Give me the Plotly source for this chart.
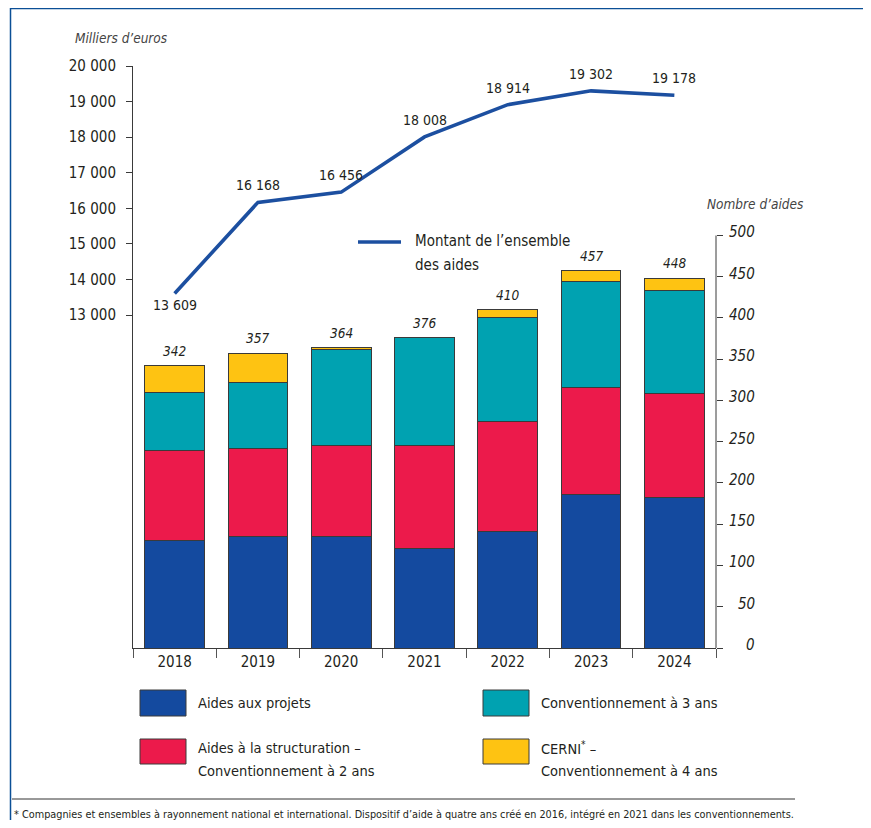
import plotly.graph_objects as go

years = ["2018", "2019", "2020", "2021", "2022", "2023", "2024"]
aides_projets = [130, 135, 135, 120, 141, 186, 183]
aides_structuration = [109, 107, 111, 126, 134, 130, 126]
conv_3ans = [71, 80, 116, 130, 125, 128, 124]
cerni = [32, 35, 2, 0, 10, 13, 15]
totaux = [342, 357, 364, 376, 410, 457, 448]
montant = [13609, 16168, 16456, 18008, 18914, 19302, 19178]
left_ticks = [13000, 14000, 15000, 16000, 17000, 18000, 19000, 20000]
right_ticks = [0, 50, 100, 150, 200, 250, 300, 350, 400, 450, 500]

FONT = "DejaVu Sans Condensed, Liberation Sans Narrow, sans-serif"
TXT = "#231f20"
C_BLUE = "#144a9f"
C_RED = "#ec1a4b"
C_TEAL = "#00a2b1"
C_YEL = "#fec312"
C_LINE = "#1c4fa0"
OUT = "#3a3a3a"

OFF = 8  # page body margin
W, H = 871 - OFF, 828 - OFF - 8
# plot area in screenshot pixels
SL, SR, ST, SB = 133, 716, 66, 648
L, R, T, B = SL - OFF, SR - OFF, ST - OFF, SB - OFF


def px(x):
    return (x - SL) / (SR - SL)


def py(y):
    return (SB - y) / (SB - ST)


def fmt(v):
    return f"{v:,}".replace(",", " ")


fig = go.Figure()

series = [
    ("Aides aux projets", aides_projets, C_BLUE),
    ("Aides à la structuration", aides_structuration, C_RED),
    ("Conventionnement à 3 ans", conv_3ans, C_TEAL),
    ("CERNI", cerni, C_YEL),
]
for name, vals, col in series:
    fig.add_trace(go.Bar(
        x=years, y=vals, name=name, yaxis="y2",
        marker=dict(color=col, line=dict(color=OUT, width=1)),
        width=0.717, showlegend=False, hoverinfo="skip",
    ))

fig.add_trace(go.Scatter(
    x=years, y=montant, mode="lines", yaxis="y",
    line=dict(color=C_LINE, width=3.6), showlegend=False, hoverinfo="skip",
))

annotations = []
# line value labels
for i, v in enumerate(montant):
    annotations.append(dict(
        x=i, y=v, xref="x", yref="y", text=fmt(v), showarrow=False,
        xanchor="center", yanchor="middle",
        yshift=-12 if i == 0 else 17, font=dict(family=FONT, size=14, color=TXT),
    ))
# bar totals
for i, t in enumerate(totaux):
    annotations.append(dict(
        x=i, y=t, xref="x", yref="y2", text=str(t), showarrow=False,
        xanchor="center", yanchor="middle",
        yshift=15, font=dict(family=FONT, size=13.5, color=TXT, style="italic"),
    ))
# right axis tick labels (right aligned)
for v in right_ticks:
    annotations.append(dict(
        x=px(757), y=v, xref="paper", yref="y2", text=str(v), showarrow=False,
        xanchor="right", yanchor="middle", yshift=3,
        font=dict(family=FONT, size=15, color=TXT, style="italic"),
    ))


def note(x, y, text, size, anchor="left", color=TXT, style="normal"):
    annotations.append(dict(x=px(x), y=py(y), xref="paper", yref="paper", text=text,
                            showarrow=False, xanchor=anchor, yanchor="middle",
                            font=dict(family=FONT, size=size, color=color, style=style)))


# axis titles
note(73, 38, "Milliers d’euros", 13.5, color="#444", style="italic")
note(806, 204, "Nombre d’aides", 13.5, anchor="right", color="#444", style="italic")

# line legend
note(413, 241, "Montant de l’ensemble", 15)
note(413, 265, "des aides", 15)

# bottom legend texts
note(196, 703, "Aides aux projets", 14.5)
note(539, 703, "Conventionnement à 3 ans", 14.5)
note(196, 748, "Aides à la structuration –", 14.5)
note(196, 771, "Conventionnement à 2 ans", 14.5)
note(539, 748, "CERNI<sup>*</sup> –", 14.5)
note(539, 771, "Conventionnement à 4 ans", 14.5)

# footnote
note(12, 815, "* Compagnies et ensembles à rayonnement national et international. Dispositif d’aide à quatre ans créé en 2016, intégré en 2021 dans les conventionnements.", 10.8)

shapes = []
# frame
shapes.append(dict(type="line", xref="paper", yref="paper", x0=px(10), x1=px(871 + 10), y0=py(8.5), y1=py(8.5),
                   line=dict(color="#0b4f96", width=1.5)))
shapes.append(dict(type="line", xref="paper", yref="paper", x0=px(10.5), x1=px(10.5), y0=py(8), y1=py(840),
                   line=dict(color="#0b4f96", width=1.5)))
# right axis line
shapes.append(dict(type="line", xref="paper", yref="y2", x0=1, x1=1, y0=-10, y1=500,
                   line=dict(color=OUT, width=1)))
# line legend sample
shapes.append(dict(type="line", xref="paper", yref="paper", x0=px(358), x1=px(401), y0=py(242), y1=py(242),
                   line=dict(color=C_LINE, width=3.6)))
# legend boxes
for x0, y0, y1, col in [(140, 690, 716, C_BLUE), (483, 690, 716, C_TEAL),
                        (140, 739, 764, C_RED), (483, 739, 764, C_YEL)]:
    shapes.append(dict(type="rect", xref="paper", yref="paper", x0=px(x0), x1=px(x0 + 46),
                       y0=py(y0), y1=py(y1), fillcolor=col, line=dict(color=OUT, width=1)))
# footnote rule
shapes.append(dict(type="line", xref="paper", yref="paper", x0=px(12), x1=px(795), y0=py(799), y1=py(799),
                   line=dict(color="#333", width=1)))

fig.update_layout(
    width=W, height=H,
    margin=dict(l=L, r=W - R, t=T, b=H - B, pad=0),
    paper_bgcolor="white", plot_bgcolor="white",
    barmode="stack", bargap=0.283,
    showlegend=False,
    font=dict(family=FONT, color=TXT),
    xaxis=dict(type="category", range=[-0.5, 6.5], showline=True, linecolor=OUT, linewidth=1,
               ticks="outside", tickson="boundaries", ticklen=9, tickcolor="#555",
               tickfont=dict(family=FONT, size=15, color=TXT), showgrid=False, zeroline=False),
    yaxis=dict(range=[3647, 20000], tickvals=left_ticks, ticktext=[fmt(v) for v in left_ticks],
               showline=True, linecolor=OUT, linewidth=1, ticks="outside", ticklen=6, tickcolor=OUT,
               ticklabelstandoff=7,
               tickfont=dict(family=FONT, size=15, color=TXT), showgrid=False, zeroline=False),
    yaxis2=dict(range=[0, 705.4], overlaying="y", side="right", tickvals=right_ticks,
                showticklabels=False, showline=False, ticks="outside", ticklen=6, tickcolor=OUT,
                showgrid=False, zeroline=False),
    annotations=annotations, shapes=shapes,
)

fig.write_html("out.html")
